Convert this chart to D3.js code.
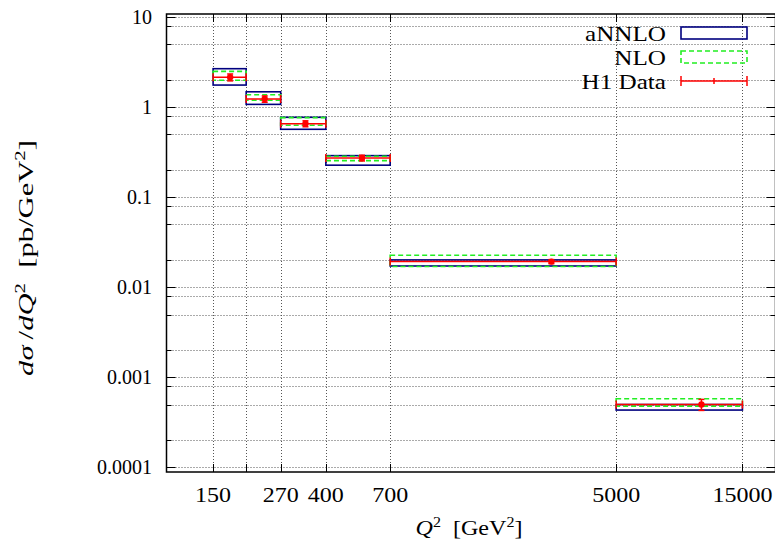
<!DOCTYPE html>
<html><head><meta charset="utf-8">
<script src="https://cdn.jsdelivr.net/npm/d3@7"></script>
<style>body{margin:0;background:#fff}svg{display:block}</style>
</head><body><svg id="c" width="775" height="544"></svg>
<script>
// ---- data ----
const binLo = [150, 200, 270, 400, 700, 5000];
const binHi = [200, 270, 400, 700, 5000, 15000];
const annloLo = [1.77, 1.08, 0.571, 0.228, 0.0173, 0.000434];
const annloHi = [2.69, 1.49, 0.776, 0.291, 0.0202, 0.000500];
const nloLo = [2.00, 1.20, 0.633, 0.256, 0.01706, 0.000480];
const nloHi = [2.51, 1.38, 0.770, 0.287, 0.0228, 0.000580];
const dataX = [174, 235, 335, 548, 2846, 10500];
const dataY = [2.16, 1.24, 0.659, 0.274, 0.01936, 0.000500];
const dataErr = [0.19, 0.10, 0.05, 0.02, 0.0010, 0.00007];
const xTicks = [150, 200, 270, 400, 700, 5000, 15000];
const xTickLabels = ["150", "", "270", "400", "700", "5000", "15000"];
const yTicks = [0.0001, 0.001, 0.01, 0.1, 1, 10];
const yTickLabels = ["0.0001", "0.001", "0.01", "0.1", "1", "10"];
const yMinorMult = [2, 5, 8];
const legendLabels = ["aNNLO", "NLO", "H1 Data"];

// ---- drawing ----
const svg = d3.select("#c");
const FONT = "'Liberation Serif', 'Times New Roman', serif";
const x = d3.scaleLog().domain([100, 20000]).range([166.5, 775.5]);
const y = d3.scaleLog().domain([8.9e-5, 10.9]).range([472, 14]);
const [x0, x1] = x.range();
const [yb, yt] = y.range();

const yMinor = [];
yTicks.forEach(t => yMinorMult.forEach(m => { const v = t * m; if (v < y.domain()[1]) yMinor.push(v); }));
const yGrid = yTicks.concat(yMinor);

const NAVY = "#00007f", GREEN = "#22ee22", RED = "#ff0000";
const gGrid = svg.append("g").attr("stroke", "#555").attr("stroke-width", 1).attr("stroke-dasharray", "1,2");
gGrid.selectAll("line.h").data(yGrid).join("line").attr("class", "h")
  .attr("x1", x0).attr("x2", x1).attr("y1", d => Math.round(y(d)) + 0.5).attr("y2", d => Math.round(y(d)) + 0.5);
gGrid.selectAll("line.v").data(xTicks).join("line").attr("class", "v")
  .attr("y1", yb).attr("y2", yt).attr("x1", d => Math.round(x(d)) + 0.5).attr("x2", d => Math.round(x(d)) + 0.5);

// ticks (inward, all four sides)
const gT = svg.append("g").attr("stroke", "#000").attr("stroke-width", 1);
yTicks.forEach(t => {
  const py = Math.round(y(t)) + 0.5;
  gT.append("line").attr("x1", x0).attr("x2", x0 + 9).attr("y1", py).attr("y2", py);
  gT.append("line").attr("x1", x1).attr("x2", x1 - 9).attr("y1", py).attr("y2", py);
});
yMinor.forEach(t => {
  const py = Math.round(y(t)) + 0.5;
  gT.append("line").attr("x1", x0).attr("x2", x0 + 5).attr("y1", py).attr("y2", py);
  gT.append("line").attr("x1", x1).attr("x2", x1 - 5).attr("y1", py).attr("y2", py);
});
xTicks.forEach(t => {
  const px = Math.round(x(t)) + 0.5;
  gT.append("line").attr("x1", px).attr("x2", px).attr("y1", yb).attr("y2", yb - 8);
  gT.append("line").attr("x1", px).attr("x2", px).attr("y1", yt).attr("y2", yt + 8);
});

// boxes
const idx = d3.range(binLo.length);
svg.append("g").selectAll("rect").data(idx).join("rect")
  .attr("x", i => x(binLo[i])).attr("width", i => x(binHi[i]) - x(binLo[i]))
  .attr("y", i => y(annloHi[i])).attr("height", i => y(annloLo[i]) - y(annloHi[i]))
  .attr("fill", "none").attr("stroke", NAVY).attr("stroke-width", 1.6);
svg.append("g").selectAll("rect").data(idx).join("rect")
  .attr("x", i => x(binLo[i])).attr("width", i => x(binHi[i]) - x(binLo[i]))
  .attr("y", i => y(nloHi[i])).attr("height", i => y(nloLo[i]) - y(nloHi[i]))
  .attr("fill", "none").attr("stroke", GREEN).attr("stroke-width", 1.6).attr("stroke-dasharray", "5,3");

// data points with xy error bars
const gD = svg.append("g").attr("stroke", RED).attr("stroke-width", 1.5).attr("fill", RED);
idx.forEach(i => {
  const py = y(dataY[i]), pxl = x(binLo[i]), pxh = x(binHi[i]), px = x(dataX[i]);
  gD.append("line").attr("x1", pxl).attr("x2", pxh).attr("y1", py).attr("y2", py);
  gD.append("line").attr("x1", pxl).attr("x2", pxl).attr("y1", py - 4).attr("y2", py + 4);
  gD.append("line").attr("x1", pxh).attr("x2", pxh).attr("y1", py - 4).attr("y2", py + 4);
  const ya = y(dataY[i] + dataErr[i]), yc = y(dataY[i] - dataErr[i]);
  gD.append("line").attr("x1", px).attr("x2", px).attr("y1", ya).attr("y2", yc);
  gD.append("line").attr("x1", px - 3).attr("x2", px + 3).attr("y1", ya).attr("y2", ya);
  gD.append("line").attr("x1", px - 3).attr("x2", px + 3).attr("y1", yc).attr("y2", yc);
  gD.append("circle").attr("cx", px).attr("cy", py).attr("r", 3.2).attr("stroke", "none");
});

// frame
svg.append("rect").attr("x", x0).attr("y", yt).attr("width", x1 - x0).attr("height", yb - yt)
  .attr("fill", "none").attr("stroke", "#000").attr("stroke-width", 1.5);

// helper: stretch a text element along its writing direction to a target length
function fitWidth(sel, target) {
  const w = sel.node().getComputedTextLength();
  return w > 0 ? target / w : 1;
}

// tick labels
svg.append("g").selectAll("text").data(yTicks).join("text")
  .attr("x", 152).attr("y", d => y(d)).attr("dy", "0.35em").attr("text-anchor", "end")
  .attr("font-family", FONT).attr("font-size", 20).text((d, i) => yTickLabels[i]);
svg.append("g").selectAll("text").data(xTicks).join("text")
  .attr("transform", d => `translate(${x(d)},502) scale(1.2,1)`).attr("text-anchor", "middle")
  .attr("font-family", FONT).attr("font-size", 20).text((d, i) => xTickLabels[i]);

// axis titles
const xt = svg.append("text").attr("text-anchor", "middle")
  .attr("font-family", FONT).attr("font-size", 21);
xt.append("tspan").attr("font-style", "italic").text("Q");
xt.append("tspan").attr("font-size", 14).attr("dy", -8).text("2");
xt.append("tspan").attr("dy", 8).text("\u2002[GeV");
xt.append("tspan").attr("font-size", 14).attr("dy", -8).text("2");
xt.append("tspan").attr("dy", 8).text("]");
xt.attr("transform", `translate(469,535) scale(${fitWidth(xt, 107)},1)`);

const yt2 = svg.append("text").attr("text-anchor", "middle")
  .attr("font-family", FONT).attr("font-size", 22);
yt2.append("tspan").attr("font-style", "italic").text("d\u03c3");
yt2.append("tspan").text("\u2009/");
yt2.append("tspan").attr("font-style", "italic").text("dQ");
yt2.append("tspan").attr("font-size", 15).attr("dy", -8).text("2");
yt2.append("tspan").attr("dy", 8).text("\u2002[pb/GeV");
yt2.append("tspan").attr("font-size", 15).attr("dy", -8).text("2");
yt2.append("tspan").attr("dy", 8).text("]");
yt2.attr("transform", `translate(33,258) rotate(-90) scale(${fitWidth(yt2, 236)},1)`);

// legend
const lg = svg.append("g");
const rows = [33, 57, 81];
const lt = legendLabels.map((t, i) => lg.append("text").attr("text-anchor", "end")
    .attr("font-family", FONT).attr("font-size", 22).attr("dy", "0.35em").text(t));
const ls = fitWidth(lt[0], 81);
lt.forEach((s, i) => s.attr("transform", `translate(666,${rows[i]}) scale(${ls},1)`));
lg.append("rect").attr("x", 681).attr("y", rows[0] - 6).attr("width", 66).attr("height", 12)
  .attr("fill", "none").attr("stroke", NAVY).attr("stroke-width", 1.6);
lg.append("rect").attr("x", 681).attr("y", rows[1] - 6).attr("width", 66).attr("height", 12)
  .attr("fill", "none").attr("stroke", GREEN).attr("stroke-width", 1.6).attr("stroke-dasharray", "5,3");
const lr = lg.append("g").attr("stroke", RED).attr("stroke-width", 1.5);
lr.append("line").attr("x1", 681).attr("x2", 747).attr("y1", rows[2]).attr("y2", rows[2]);
lr.append("line").attr("x1", 681).attr("x2", 681).attr("y1", rows[2] - 5).attr("y2", rows[2] + 5);
lr.append("line").attr("x1", 747).attr("x2", 747).attr("y1", rows[2] - 5).attr("y2", rows[2] + 5);
lr.append("line").attr("x1", 714).attr("x2", 714).attr("y1", rows[2] - 3).attr("y2", rows[2] + 3);
</script></body></html>
